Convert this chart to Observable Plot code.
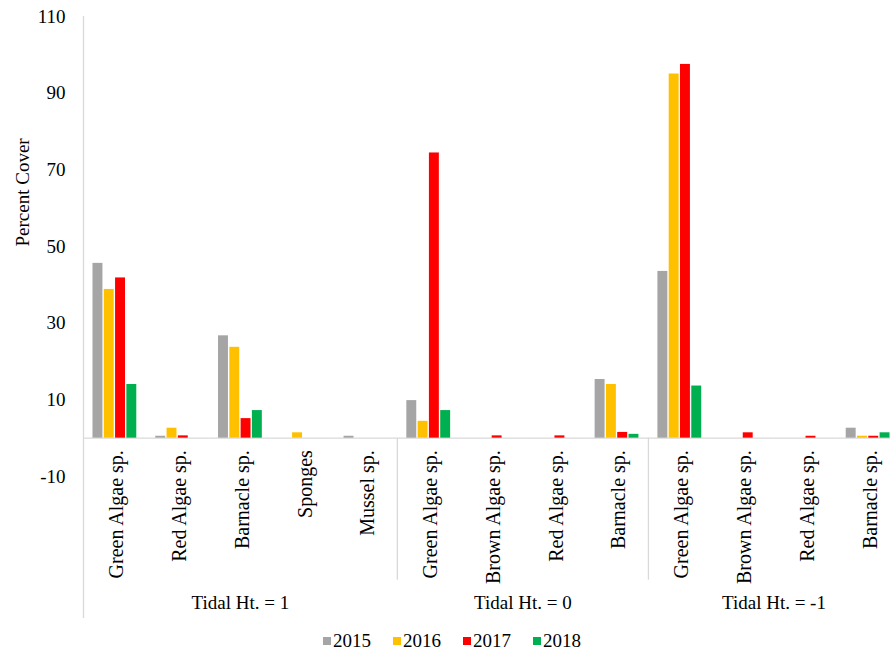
<!DOCTYPE html>
<html>
<head>
<meta charset="utf-8">
<script src="https://cdn.jsdelivr.net/npm/d3@7"></script>
<script src="https://cdn.jsdelivr.net/npm/@observablehq/plot@0.6"></script>
<style>
  html, body { margin: 0; padding: 0; background: #fff; overflow: hidden; }
  #chart { width: 890px; }
  .legend { display: flex; justify-content: center; align-items: center; padding-left: 14px;
    font-family: "Liberation Serif", "DejaVu Serif", serif; font-size: 19px; color: #000;
    height: 31px; }
  .legend .item { display: flex; align-items: center; margin: 0 11px; }
  .legend .sw { width: 8px; height: 8px; margin-right: 2px; }
</style>
</head>
<body>
<div id="chart"></div>
<script>
// ---- data ----
const groups = ["Tidal Ht. = 1", "Tidal Ht. = 0", "Tidal Ht. = -1"];
const groupSpecies = [
  ["Green Algae sp.", "Red Algae sp.", "Barnacle sp.", "Sponges", "Mussel sp."],
  ["Green Algae sp.", "Brown Algae sp.", "Red Algae sp.", "Barnacle sp."],
  ["Green Algae sp.", "Brown Algae sp.", "Red Algae sp.", "Barnacle sp."]
];
const years = ["2015", "2016", "2017", "2018"];
const colors = ["#a5a5a5", "#ffc000", "#ff0000", "#00b050"];
// values in the order of the 13 categories above
const v2015 = [45.6, 0.5, 26.7, 0, 0.5, 9.8, 0, 0, 15.3, 43.5, 0, 0, 2.6];
const v2016 = [38.8, 2.6, 23.7, 1.4, 0, 4.4, 0, 0, 14.0, 95.0, 0, 0, 0.5];
const v2017 = [41.8, 0.6, 5.1, 0, 0, 74.4, 0.6, 0.6, 1.5, 97.5, 1.4, 0.5, 0.5];
const v2018 = [14.0, 0, 7.2, 0, 0, 7.2, 0, 0, 1.0, 13.6, 0, 0, 1.4];
const yTicks = [-10, 10, 30, 50, 70, 90, 110];
const yLabel = "Percent Cover";

// ---- build tables ----
const series = [v2015, v2016, v2017, v2018];
const cats = [];
groupSpecies.forEach((list, gi) => list.forEach(name => cats.push({key: gi + "|" + name, name, group: gi})));
const keys = cats.map(c => c.key);
const table = [];
cats.forEach((c, i) => years.forEach((yr, j) => table.push({key: c.key, year: yr, value: series[j][i]})));
const groupInfo = groups.map((label, gi) => {
  const list = cats.filter(c => c.group === gi);
  const n = list.length;
  const odd = n % 2 === 1;
  return {label, first: list[0].key, mid: list[odd ? (n - 1) / 2 : n / 2 - 1].key, odd};
});

// ---- layout ----
const W = 890, H = 625, ML = 83, MR = -9, MT = 16, MB = 149;
const facetW = (W - ML - MR) / keys.length;
const lineColor = "#d9d9d9";
const font = '"Liberation Serif", "DejaVu Serif", serif';

const chart = Plot.plot({
  width: W, height: H,
  marginLeft: ML, marginRight: MR, marginTop: MT, marginBottom: MB,
  style: {fontFamily: font, fontSize: "19px", color: "#000", background: "#fff"},
  fx: {domain: keys, padding: 0, round: false, axis: null},
  x: {domain: years, paddingInner: 0.12, paddingOuter: 0.84, round: false, axis: null},
  y: {domain: [-10, 110], ticks: yTicks, tickSize: 0, tickPadding: 18, label: null, tickFormat: d => String(d)},
  color: {domain: years, range: colors},
  marks: [
    Plot.ruleY([0], {stroke: lineColor, strokeWidth: 1.3}),
    Plot.barY(table, {fx: "key", x: "year", y: "value", fill: "year"}),
    Plot.ruleX([keys[0]], {fx: d => d, x: null, stroke: lineColor, strokeWidth: 1.3, dx: -facetW / 2, insetBottom: -142}),
    Plot.ruleX(groupInfo.slice(1), {fx: "first", x: null, y1: 0, stroke: lineColor, strokeWidth: 1.3, dx: -facetW / 2, insetBottom: -142}),
    Plot.text(cats, {fx: "key", y: 0, text: "name", rotate: -90, textAnchor: "end", dy: 12, dx: 2, fontSize: 20}),
    Plot.text(groupInfo.filter(g => g.odd), {fx: "mid", frameAnchor: "bottom", text: "label", dy: 132, fontSize: 19}),
    Plot.text(groupInfo.filter(g => !g.odd), {fx: "mid", frameAnchor: "bottom-right", textAnchor: "middle", text: "label", dy: 132, fontSize: 19}),
    Plot.text([yLabel], {fx: () => keys[0], frameAnchor: "left", rotate: -90, dx: -61, fontSize: 19})
  ]
});
document.getElementById("chart").appendChild(chart);

// ---- legend ----
const legend = d3.select("body").append("div").attr("class", "legend");
years.forEach((yr, i) => {
  const item = legend.append("div").attr("class", "item");
  item.append("div").attr("class", "sw").style("background", colors[i]);
  item.append("span").text(yr);
});
</script>
</body>
</html>
